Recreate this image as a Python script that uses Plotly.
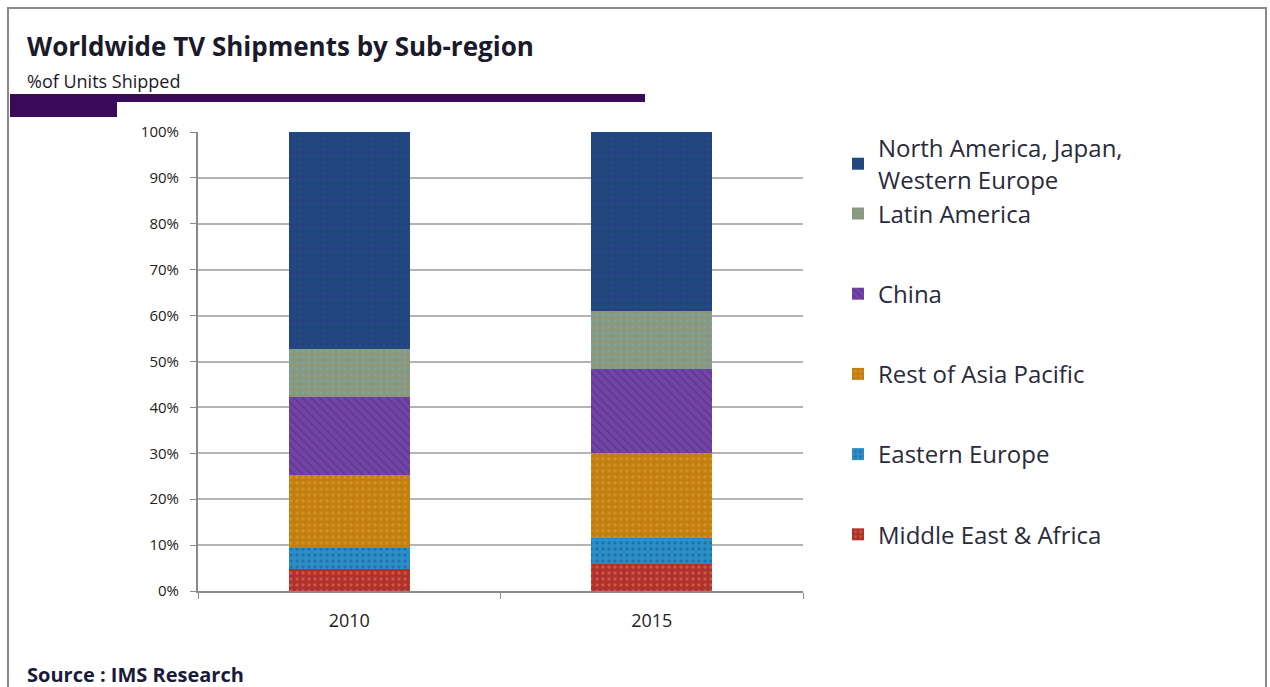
import plotly.graph_objects as go

years = ["2010", "2015"]
regions = ["Middle East & Africa", "Eastern Europe", "Rest of Asia Pacific",
           "China", "Latin America", "North America, Japan,<br>Western Europe"]
mea = [4.7, 5.8]
eastern_europe = [4.7, 5.7]
rest_asia = [15.9, 18.6]
china = [17.0, 18.2]
latin_america = [10.4, 12.6]
na_japan_we = [47.3, 39.1]
series = [mea, eastern_europe, rest_asia, china, latin_america, na_japan_we]
colors = ["#b0302c", "#2b8fc6", "#c27f10", "#7244a6", "#8e9679", "#1f4a7c"]
pat_fg = ["#e08060", "#1a4f9a", "#e0a040", "#4a2a70", "#58b8c8", "#3a2a9a"]
pat_shape = [".", ".", ".", "\\", ".", "."]
groups = ["g1", "g2", "g3", "g4", "g5", "g5"]
y_ticks = [0, 10, 20, 30, 40, 50, 60, 70, 80, 90, 100]
y_labels = [f"{v}%" for v in y_ticks]

fig = go.Figure()
n = len(regions)
for i, (name, vals, c, fg, sh, g) in enumerate(zip(regions, series, colors, pat_fg, pat_shape, groups)):
    fig.add_trace(go.Bar(
        x=years, y=vals, name=name, legendgroup=g, legendrank=n - i,
        marker=dict(color=c, line=dict(width=0),
                    pattern=dict(shape=sh, fgcolor=fg, bgcolor=c, size=6, solidity=0.25)),
    ))

W, H = 1270, 687
L, R, T, B = 198, 803, 132, 591

def px(x):
    return (x - L) / (R - L)

def py(y):
    return (B - y) / (B - T)

shapes = [
    dict(type="rect", xref="paper", yref="paper", x0=px(8), x1=px(1266), y0=py(8), y1=py(700),
         line=dict(color="#8a8a8a", width=2), fillcolor="rgba(0,0,0,0)", layer="below"),
    dict(type="rect", xref="paper", yref="paper", x0=px(10), x1=px(645), y0=py(102), y1=py(94),
         line=dict(width=0), fillcolor="#3a0a58"),
    dict(type="rect", xref="paper", yref="paper", x0=px(10), x1=px(117), y0=py(117), y1=py(94),
         line=dict(width=0), fillcolor="#3a0a58"),
]

annotations = [
    dict(text="<b>Worldwide TV Shipments by Sub-region</b>", xref="paper", yref="paper",
         x=px(25), y=py(46), xanchor="left", yanchor="middle", showarrow=False,
         font=dict(family="Open Sans", size=26, color="#1a1a2a")),
    dict(text="%of Units Shipped", xref="paper", yref="paper",
         x=px(25), y=py(81), xanchor="left", yanchor="middle", showarrow=False,
         font=dict(family="Open Sans", size=18, color="#1a1a2a")),
    dict(text="<b>Source : IMS Research</b>", xref="paper", yref="paper",
         x=px(25), y=py(674), xanchor="left", yanchor="middle", showarrow=False,
         font=dict(family="Open Sans", size=20, color="#1a1a3a")),
]

fig.update_layout(
    width=W, height=H, autosize=False,
    margin=dict(l=L, r=W - R, t=T, b=H - B),
    paper_bgcolor="white", plot_bgcolor="white",
    barmode="stack", bargap=0.6,
    font=dict(family="Open Sans", color="#222"),
    showlegend=True,
    legend=dict(x=px(838), y=py(126), xanchor="left", yanchor="top",
                traceorder="grouped", tracegroupgap=46, maxheight=620,
                font=dict(size=24, color="#2a2a3a"), bgcolor="rgba(0,0,0,0)"),
    shapes=shapes, annotations=annotations,
    xaxis=dict(showline=True, linecolor="#8a8a8a", linewidth=2, ticks="outside",
               tickson="boundaries", ticklen=6, tickcolor="#8a8a8a",
               ticklabelstandoff=12,
               tickfont=dict(size=18, color="#222")),
    yaxis=dict(range=[0, 100], tickvals=y_ticks, ticktext=y_labels,
               showline=True, linecolor="#8a8a8a", linewidth=2, ticks="outside",
               ticklen=6, tickcolor="#8a8a8a", showgrid=True, gridcolor="#b4b4b4",
               ticklabelstandoff=8,
               gridwidth=2, tickfont=dict(size=15, color="#222"), zeroline=False),
)

fig.write_html("out.html", config={"displayModeBar": False},
               post_script="document.body.style.margin='0';")
